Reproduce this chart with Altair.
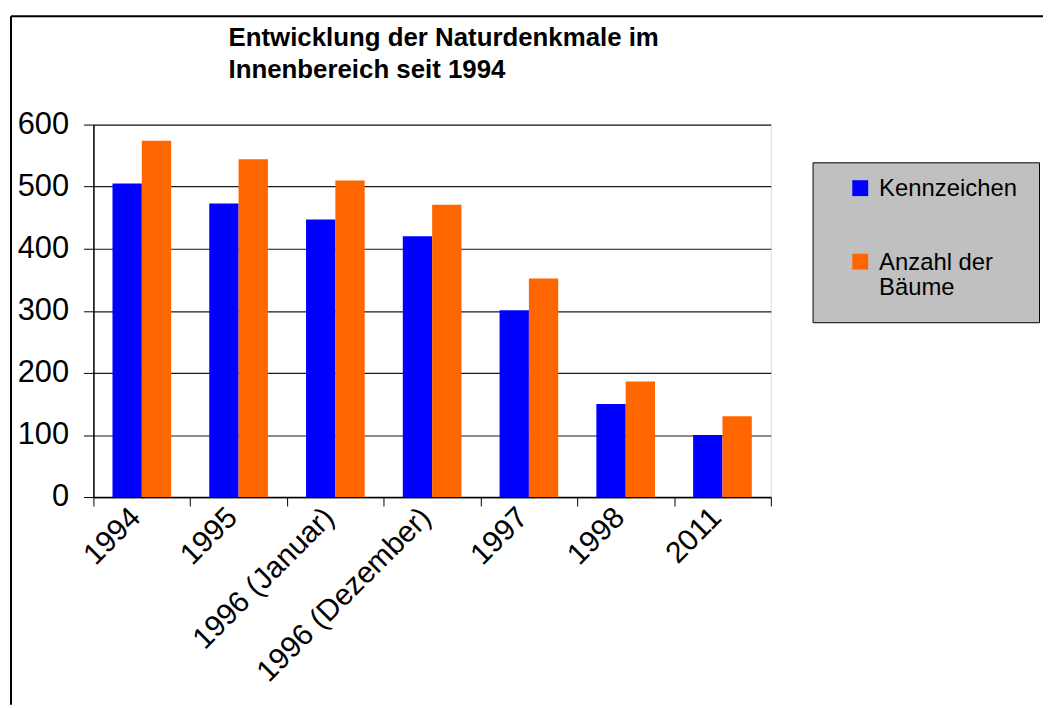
import altair as alt
import pandas as pd

categories = ["1994", "1995", "1996 (Januar)", "1996 (Dezember)", "1997", "1998", "2011"]
kennzeichen = [505, 473, 447, 420, 301, 150, 100]
anzahl_baeume = [574, 544, 510, 471, 352, 186, 130]
series_names = ["Kennzeichen", "Anzahl der Bäume"]
series_colors = ["#0000FF", "#FF6600"]
y_ticks = [0, 100, 200, 300, 400, 500, 600]
title_lines = ["Entwicklung der Naturdenkmale im", "Innenbereich seit 1994"]

rows = []
for c, k, a in zip(categories, kennzeichen, anzahl_baeume):
    rows.append({"Jahr": c, "Serie": series_names[0], "Wert": k})
    rows.append({"Jahr": c, "Serie": series_names[1], "Wert": a})
df = pd.DataFrame(rows)

FONT = "Liberation Sans"

bars = alt.Chart(df).mark_bar(cornerRadius=0).encode(
    x=alt.X(
        "Jahr:N",
        sort=categories,
        scale=alt.Scale(paddingInner=0, paddingOuter=0),
        axis=alt.Axis(
            title=None,
            labelAngle=-45,
            labelFontSize=30,
            labelFont=FONT,
            labelColor="#000000",
            labelOffset=-17,
            labelPadding=-4,
            tickBand="extent",
            tickSize=9,
            tickColor="#000000",
            domainColor="#000000",
            domainWidth=1.5,
            grid=False,
            labelLimit=400,
        ),
    ),
    xOffset=alt.XOffset(
        "Serie:N",
        sort=series_names,
        scale=alt.Scale(paddingInner=0, paddingOuter=0.65),
    ),
    y=alt.Y(
        "Wert:Q",
        scale=alt.Scale(domain=[0, 600], nice=False),
        axis=alt.Axis(
            title=None,
            values=y_ticks,
            labelFontSize=31,
            labelFont=FONT,
            labelColor="#000000",
            labelPadding=15,
            tickSize=10,
            tickColor="#000000",
            domainColor="#000000",
            domainWidth=1.5,
            grid=True,
            gridColor="#1a1a1a",
            gridWidth=1.2,
        ),
    ),
    color=alt.Color(
        "Serie:N",
        sort=series_names,
        scale=alt.Scale(domain=series_names, range=series_colors),
        legend=alt.Legend(
            title=None,
            orient="none",
            legendX=724,
            legendY=38,
            labelFontSize=24,
            labelFont=FONT,
            labelColor="#000000",
            labelBaseline="alphabetic",
            labelExpr="datum.label == 'Anzahl der Bäume' ? ['Anzahl der', 'Bäume'] : datum.label",
            labelOffset=7,
            symbolType="M-1,-2H1V0H-1Z",
            symbolSize=256,
            symbolStrokeWidth=0,
            fillColor="#C0C0C0",
            strokeColor="#000000",
            padding=22,
            rowPadding=50,
            symbolOffset=14,
        ),
    ),
)

frame_data = alt.Data(values=[{}])
frame_left = alt.Chart(frame_data).mark_rule(color="#000000", strokeWidth=2).encode(
    x=alt.value(-83), y=alt.value(-109), y2=alt.value(584)
)
frame_top = alt.Chart(frame_data).mark_rule(color="#000000", strokeWidth=2).encode(
    x=alt.value(-83), x2=alt.value(956), y=alt.value(-109)
)

chart = (
    alt.layer(bars, frame_left, frame_top)
    .properties(
        width=682,
        height=375,
        padding={"left": 2, "top": 5, "right": 0, "bottom": 0},
        title=alt.TitleParams(
            text=title_lines,
            anchor="start",
            frame="group",
            dx=136,
            offset=-68,
            fontSize=26,
            font=FONT,
            fontWeight="bold",
            color="#000000",
            lineHeight=32,
        ),
    )
    .configure_view(fill="#C0C0C0", stroke="#808080", strokeWidth=1.5)
    .configure(background="#FFFFFF")
)

chart.save("out.html", embed_options={"renderer": "svg", "actions": False})
